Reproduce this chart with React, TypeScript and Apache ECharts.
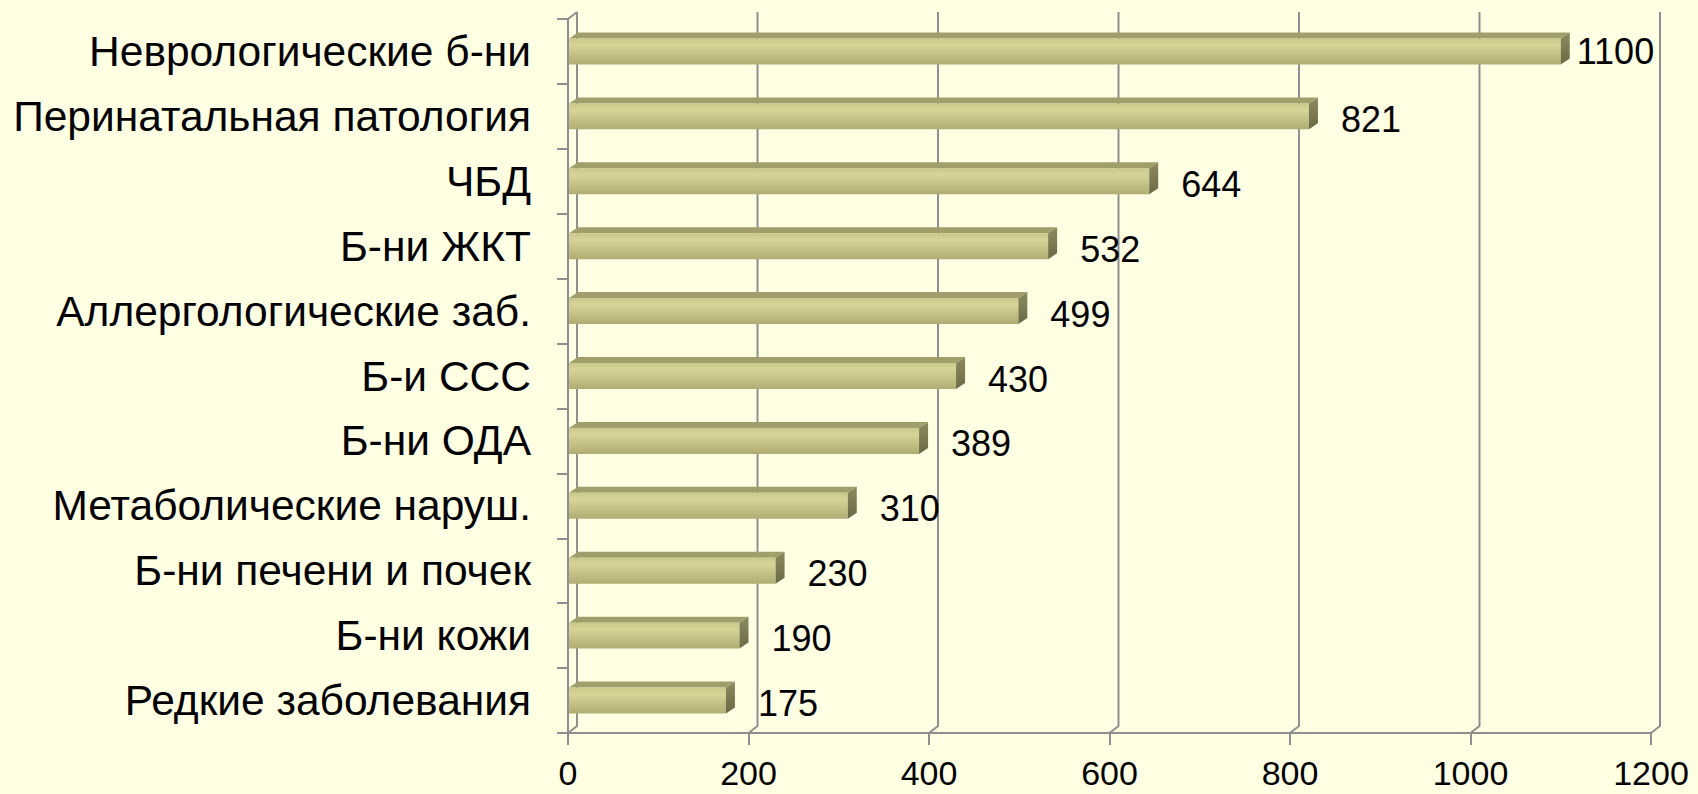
import React, { useEffect, useRef } from "react";
import * as echarts from "echarts";

const categories = [
  "Неврологические б-ни",
  "Перинатальная патология",
  "ЧБД",
  "Б-ни ЖКТ",
  "Аллергологические заб.",
  "Б-и ССС",
  "Б-ни ОДА",
  "Метаболические наруш.",
  "Б-ни печени и почек",
  "Б-ни кожи",
  "Редкие заболевания",
];
const values = [1100, 821, 644, 532, 499, 430, 389, 310, 230, 190, 175];
const xTicks = [0, 200, 400, 600, 800, 1000, 1200];

const FONT = "'Liberation Sans', Arial, sans-serif";
const DX = 9;
const DY = 7;
const GRID_COLOR = "#8f8f8f";

export default function App() {
  const ref = useRef<HTMLDivElement>(null);
  useEffect(() => {
    if (!ref.current) return;
    const chart = echarts.init(ref.current, null, { renderer: "svg" });
    const option: any = {
      animation: false,
      backgroundColor: "#ffffe4",
      grid: { left: 568, right: 47, top: 19, bottom: 61, outerBoundsMode: "none" },
      xAxis: {
        type: "value",
        min: 0,
        max: 1200,
        interval: 200,
        axisLine: { show: true, lineStyle: { color: GRID_COLOR, width: 2 } },
        axisTick: { show: true, length: 12, lineStyle: { color: GRID_COLOR, width: 2 } },
        splitLine: { show: false },
        axisLabel: {
          color: "#000",
          fontSize: 34,
          lineHeight: 34,
          fontFamily: FONT,
          margin: 23,
          formatter: (v: number) => String(v),
        },
      },
      yAxis: {
        type: "category",
        data: categories,
        inverse: true,
        axisLine: { show: true, lineStyle: { color: GRID_COLOR, width: 2 } },
        axisTick: { show: true, length: 11, lineStyle: { color: GRID_COLOR, width: 2 } },
        splitLine: { show: false },
        axisLabel: { color: "#000", fontSize: 42.5, fontFamily: FONT, margin: 37 },
      },
      series: [
        {
          type: "custom",
          z: 1,
          silent: true,
          data: xTicks.map((v) => [v]),
          renderItem: (params: any, api: any) => {
            const cs = params.coordSys;
            const x = api.coord([api.value(0), 0])[0];
            const top = cs.y;
            const bottom = cs.y + cs.height;
            const children: any[] = [
              {
                type: "polyline",
                shape: {
                  points: [
                    [x, bottom],
                    [x + DX, bottom - DY],
                    [x + DX, top - DY],
                  ],
                },
                style: { stroke: GRID_COLOR, lineWidth: 2, fill: null },
              },
            ];
            if (api.value(0) === 0) {
              children.push({
                type: "line",
                shape: { x1: x, y1: top, x2: x + DX, y2: top - DY },
                style: { stroke: GRID_COLOR, lineWidth: 2 },
              });
            }
            return { type: "group", children };
          },
        },
        {
          type: "custom",
          z: 5,
          data: values.map((v, i) => [v, i]),
          renderItem: (params: any, api: any) => {
            const v = api.value(0);
            const idx = api.value(1);
            const c1 = api.coord([v, idx]);
            const c0 = api.coord([0, idx]);
            const band = api.size([0, 1])[1];
            const h = band * 0.4;
            const x0 = c0[0] + 1;
            const x1 = c1[0];
            const yT = c1[1] - h / 2;
            const yB = c1[1] + h / 2;
            return {
              type: "group",
              children: [
                {
                  type: "polygon",
                  shape: {
                    points: [
                      [x0, yT],
                      [x1, yT],
                      [x1 + DX, yT - DY + 1],
                      [x0 + DX, yT - DY + 1],
                    ],
                  },
                  style: { fill: "#a09f6c" },
                },
                {
                  type: "rect",
                  shape: { x: x0, y: yT, width: x1 - x0, height: h },
                  style: {
                    fill: new echarts.graphic.LinearGradient(0, 0, 0, 1, [
                      { offset: 0, color: "#c9c78a" },
                      { offset: 0.25, color: "#d6d498" },
                      { offset: 1, color: "#b0ad74" },
                    ]),
                  },
                },
                {
                  type: "polygon",
                  shape: {
                    points: [
                      [x1, yT],
                      [x1 + DX, yT - DY + 1],
                      [x1 + DX, yB - DY + 1],
                      [x1, yB],
                    ],
                  },
                  style: {
                    fill: new echarts.graphic.LinearGradient(0, 0, 0, 1, [
                      { offset: 0, color: "#8c8b5e" },
                      { offset: 1, color: "#6a6946" },
                    ]),
                  },
                },
                {
                  type: "text",
                  style: {
                    text: String(v),
                    x: v >= 1000 ? x1 + DX + 7 : x1 + 32,
                    y: c1[1] + (v >= 1000 ? 0 : 3),
                    fill: "#000",
                    fontSize: 36,
                    fontFamily: FONT,
                    align: "left",
                    verticalAlign: "middle",
                  },
                },
              ],
            };
          },
        },
      ],
    };
    chart.setOption(option);
    return () => chart.dispose();
  }, []);
  return (
    <div
      ref={ref}
      style={{ position: "fixed", left: 0, top: 0, width: 1698, height: 794 }}
    />
  );
}
